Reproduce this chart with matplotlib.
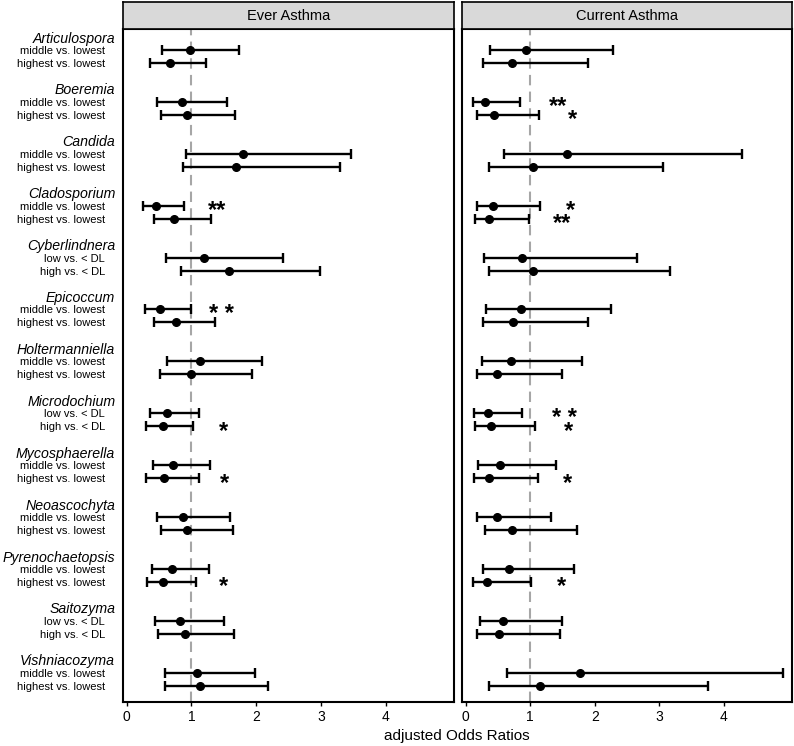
import numpy as np
import matplotlib
matplotlib.use('Agg')
import matplotlib.pyplot as plt
from matplotlib.transforms import ScaledTranslation

plt.rcParams['font.family'] = ['Liberation Sans', 'DejaVu Sans']

genera = ['Articulospora', 'Boeremia', 'Candida', 'Cladosporium', 'Cyberlindnera',
          'Epicoccum', 'Holtermanniella', 'Microdochium', 'Mycosphaerella',
          'Neoascochyta', 'Pyrenochaetopsis', 'Saitozyma', 'Vishniacozyma']
tertile_labels = ['middle vs. lowest', 'highest vs. lowest']
dl_labels = ['low vs. < DL', 'high vs. < DL']
dl_genera = ['Cyberlindnera', 'Microdochium', 'Saitozyma']

# odds ratios, first / second comparison for each genus
ever_or1 = [0.98, 0.85, 1.79, 0.45, 1.20, 0.52, 1.14, 0.63, 0.72, 0.87, 0.70, 0.82, 1.08]
ever_lo1 = [0.55, 0.47, 0.92, 0.25, 0.61, 0.28, 0.63, 0.36, 0.41, 0.47, 0.40, 0.44, 0.59]
ever_hi1 = [1.74, 1.55, 3.46, 0.88, 2.41, 0.99, 2.09, 1.12, 1.29, 1.59, 1.27, 1.50, 1.99]
ever_or2 = [0.67, 0.93, 1.69, 0.74, 1.58, 0.76, 0.99, 0.56, 0.58, 0.93, 0.57, 0.91, 1.14]
ever_lo2 = [0.36, 0.53, 0.87, 0.42, 0.84, 0.43, 0.51, 0.30, 0.30, 0.53, 0.31, 0.49, 0.59]
ever_hi2 = [1.23, 1.67, 3.29, 1.31, 2.99, 1.37, 1.93, 1.02, 1.12, 1.64, 1.07, 1.66, 2.18]

curr_or1 = [0.93, 0.30, 1.57, 0.43, 0.87, 0.86, 0.70, 0.35, 0.53, 0.49, 0.68, 0.58, 1.78]
curr_lo1 = [0.38, 0.11, 0.59, 0.17, 0.28, 0.32, 0.26, 0.13, 0.20, 0.18, 0.27, 0.22, 0.64]
curr_hi1 = [2.29, 0.84, 4.28, 1.15, 2.65, 2.26, 1.80, 0.87, 1.40, 1.32, 1.68, 1.50, 4.92]
curr_or2 = [0.72, 0.44, 1.04, 0.37, 1.05, 0.73, 0.49, 0.40, 0.37, 0.72, 0.33, 0.52, 1.15]
curr_lo2 = [0.27, 0.18, 0.36, 0.14, 0.36, 0.27, 0.17, 0.15, 0.13, 0.30, 0.12, 0.18, 0.36]
curr_hi2 = [1.90, 1.14, 3.05, 0.99, 3.17, 1.90, 1.49, 1.07, 1.12, 1.72, 1.02, 1.46, 3.76]

# significance marks: (genus, comparison 1/2, text, x)
ever_stars = [('Cladosporium', 1, '**', 1.40), ('Epicoccum', 1, '* *', 1.47),
              ('Microdochium', 2, '*', 1.50), ('Mycosphaerella', 2, '*', 1.51),
              ('Pyrenochaetopsis', 2, '*', 1.49)]
curr_stars = [('Boeremia', 1, '**', 1.44), ('Boeremia', 2, '*', 1.65),
              ('Cladosporium', 1, '*', 1.63), ('Cladosporium', 2, '**', 1.50),
              ('Microdochium', 1, '* *', 1.53), ('Microdochium', 2, '*', 1.59),
              ('Mycosphaerella', 2, '*', 1.58), ('Pyrenochaetopsis', 2, '*', 1.49)]

panels = [
    ('Ever Asthma', ever_or1, ever_lo1, ever_hi1, ever_or2, ever_lo2, ever_hi2, ever_stars),
    ('Current Asthma', curr_or1, curr_lo1, curr_hi1, curr_or2, curr_lo2, curr_hi2, curr_stars),
]

# row layout: genus label, comparison 1, comparison 2, blank
rows_per_genus = 4
genus_rows = np.arange(len(genera)) * rows_per_genus
row1 = genus_rows + 1
row2 = genus_rows + 2

W, H = 794, 746
fig = plt.figure(figsize=(W / 100, H / 100), dpi=100)

panel_x = [(123.3, 453.7), (462.3, 791.7)]
panel_top, panel_bottom = 29, 701.7
strip_top = 2

for i, (title, or1, lo1, hi1, or2, lo2, hi2, stars) in enumerate(panels):
    x0, x1 = panel_x[i]
    ax = fig.add_axes([x0 / W, (H - panel_bottom) / H, (x1 - x0) / W,
                       (panel_bottom - panel_top) / H])
    sax = fig.add_axes([x0 / W, (H - panel_top) / H, (x1 - x0) / W,
                        (panel_top - strip_top) / H])

    or1, lo1, hi1 = map(np.array, (or1, lo1, hi1))
    or2, lo2, hi2 = map(np.array, (or2, lo2, hi2))

    ax.axvline(1, color='#a6a6a6', lw=1.5, ls=(0, (5, 3)), zorder=1)
    for ors, los, his, rows in [(or1, lo1, hi1, row1), (or2, lo2, hi2, row2)]:
        ax.errorbar(ors, rows, xerr=[ors - los, his - ors], fmt='o', color='black',
                    ms=5.5, elinewidth=1.7, capsize=3.3, capthick=1.7, zorder=3)

    for genus, comp, txt, xs in stars:
        g = genera.index(genus)
        y = row1[g] if comp == 1 else row2[g]
        ax.text(xs, y + 0.38, txt, ha='center', va='center', fontsize=17,
                fontweight='bold')

    ax.set_xlim(-0.05, 5.05)
    ax.set_ylim(51.23, -0.62)
    ax.set_xticks([0, 1, 2, 3, 4])
    ax.tick_params(axis='x', length=3, width=1, labelsize=10, pad=3)
    for sp in ax.spines.values():
        sp.set_linewidth(1.5)

    if i == 0:
        ticks, labels = [], []
        for g, genus in enumerate(genera):
            comps = dl_labels if genus in dl_genera else tertile_labels
            ticks += [genus_rows[g], row1[g], row2[g]]
            labels += [genus, comps[0], comps[1]]
        ax.set_yticks(ticks)
        ax.set_yticklabels(labels)
        ax.tick_params(axis='y', length=0, pad=5.8)
        offset = ScaledTranslation(-7.4 / 72, 0, fig.dpi_scale_trans)
        for k, lab in enumerate(ax.get_yticklabels()):
            if k % 3 == 0:
                lab.set_fontstyle('italic')
                lab.set_fontsize(10.2)
            else:
                lab.set_fontsize(8.0)
                lab.set_transform(lab.get_transform() + offset)
    else:
        ax.set_yticks([])

    sax.set_facecolor('#d9d9d9')
    sax.set_xticks([])
    sax.set_yticks([])
    for sp in sax.spines.values():
        sp.set_linewidth(1.2)
    sax.text(0.5, 0.5, title, ha='center', va='center', fontsize=10.5,
             transform=sax.transAxes)

fig.text(457 / W, 1 - 736 / H, 'adjusted Odds Ratios', ha='center', va='center',
         fontsize=11)

fig.savefig('out.png', dpi=100)
